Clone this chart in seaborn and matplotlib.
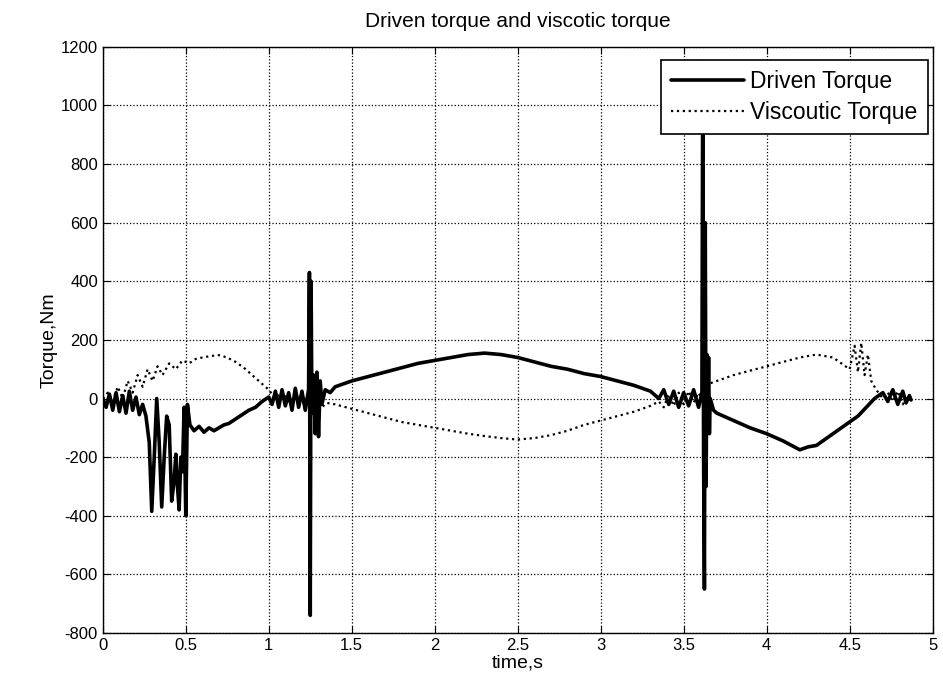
import pandas as pd
import matplotlib
matplotlib.use("Agg")
import matplotlib.pyplot as plt
import seaborn as sns

# driven torque
driven_t = [0.00, 0.02, 0.04, 0.06, 0.08, 0.10, 0.12, 0.14, 0.16, 0.18, 0.20, 0.22, 0.24, 0.26, 0.28,
            0.295, 0.31, 0.325, 0.34, 0.355, 0.37, 0.385, 0.40, 0.415, 0.43, 0.44, 0.45, 0.46, 0.47,
            0.48, 0.49, 0.50, 0.51, 0.525, 0.55, 0.58, 0.61, 0.64, 0.67, 0.70, 0.73, 0.76, 0.80,
            0.84, 0.88, 0.92, 0.96, 1.00, 1.02, 1.04, 1.06, 1.08, 1.10, 1.12, 1.14, 1.16, 1.18,
            1.20, 1.22, 1.24, 1.245, 1.25, 1.255, 1.26, 1.27, 1.28, 1.29, 1.30, 1.31, 1.32, 1.34,
            1.37, 1.40, 1.45, 1.50, 1.60, 1.70, 1.80, 1.90, 2.00, 2.10, 2.20, 2.30, 2.40, 2.50,
            2.60, 2.70, 2.80, 2.90, 3.00, 3.10, 3.20, 3.30, 3.35, 3.38, 3.41, 3.44, 3.47, 3.50,
            3.53, 3.56, 3.59, 3.61, 3.615, 3.62, 3.625, 3.63, 3.635, 3.64, 3.645, 3.65, 3.655,
            3.66, 3.68, 3.70, 3.80, 3.90, 4.00, 4.10, 4.20, 4.25, 4.30, 4.35, 4.40, 4.45, 4.50,
            4.55, 4.60, 4.65, 4.70, 4.73, 4.76, 4.79, 4.82, 4.84, 4.86, 4.87]
driven_v = [0, -30, 15, -40, 20, -45, 10, -50, 25, -40, 5, -55, -20, -60, -150,
            -385, -200, 0, -150, -370, -200, -60, -90, -350, -280, -190, -300, -380, -200,
            -250, -30, -400, -20, -90, -110, -95, -115, -100, -110, -100, -90, -85, -70,
            -55, -40, -30, -10, 5, -20, 25, -30, 30, -25, 20, -40, 35, -30,
            25, -40, 30, 430, -740, 400, -50, 80, -120, 90, -130, 60, -20, 30,
            20, 40, 50, 60, 75, 90, 105, 120, 130, 140, 150, 155, 150, 140,
            125, 110, 100, 85, 75, 60, 45, 25, 0, 30, -20, 25, -30, 20,
            -25, 30, -30, 20, 1150, -200, -650, 600, -300, 150, -100, 140, -120,
            0, -40, -50, -75, -100, -120, -145, -175, -165, -160, -140, -120, -100, -80,
            -60, -30, 0, 20, -10, 30, -20, 25, -15, 10, -5]

# viscous torque
visc_t = [0.00, 0.03, 0.06, 0.09, 0.12, 0.15, 0.18, 0.21, 0.24, 0.27, 0.30, 0.33, 0.36, 0.40,
          0.44, 0.48, 0.52, 0.56, 0.60, 0.65, 0.70, 0.75, 0.80, 0.85, 0.90, 0.95, 1.00, 1.04,
          1.08, 1.12, 1.16, 1.20, 1.24, 1.26, 1.28, 1.30, 1.32, 1.35, 1.40, 1.50, 1.60, 1.70,
          1.80, 1.90, 2.00, 2.10, 2.20, 2.30, 2.40, 2.50, 2.60, 2.70, 2.80, 2.90, 3.00, 3.10,
          3.20, 3.30, 3.35, 3.38, 3.41, 3.44, 3.47, 3.50, 3.53, 3.56, 3.59, 3.62, 3.65, 3.70,
          3.80, 3.90, 4.00, 4.10, 4.20, 4.30, 4.40, 4.45, 4.50, 4.53, 4.55, 4.57, 4.59, 4.61,
          4.63, 4.66, 4.70, 4.73, 4.76, 4.79, 4.82, 4.85, 4.87]
visc_v = [0, 20, -10, 40, 0, 60, 20, 80, 40, 100, 60, 110, 80, 120,
          100, 130, 120, 135, 140, 145, 148, 140, 125, 105, 80, 55, 30, 0,
          25, -15, 20, -20, 10, 60, -40, 50, -30, -15, -20, -35, -50, -65,
          -80, -90, -100, -110, -120, -128, -135, -140, -135, -125, -110, -90, -75, -60,
          -45, -25, -10, -30, 15, -25, 20, -20, 25, -15, 20, -10, 50, 60,
          80, 95, 110, 125, 140, 150, 140, 120, 100, 180, 90, 190, 80, 150,
          60, 30, 0, 20, -10, 25, -20, 10, 0]

x_ticks = [0, 0.5, 1, 1.5, 2, 2.5, 3, 3.5, 4, 4.5, 5]
x_labels = ['0', '0.5', '1', '1.5', '2', '2.5', '3', '3.5', '4', '4.5', '5']
y_ticks = [-800, -600, -400, -200, 0, 200, 400, 600, 800, 1000, 1200]

sns.set_style("ticks")
plt.rcParams['font.family'] = ['Liberation Sans', 'DejaVu Sans']
plt.rcParams['font.size'] = 11
plt.rcParams['axes.unicode_minus'] = False
plt.rcParams['text.color'] = 'black'
plt.rcParams['axes.labelcolor'] = 'black'

fig = plt.figure(figsize=(9.43, 6.92), dpi=100)
ax = fig.add_axes([0.109, 0.0853, 0.88, 0.847])

sns.lineplot(x=driven_t, y=driven_v, ax=ax, color='black', linewidth=2.6,
             estimator=None, sort=False, label='Driven Torque')
sns.lineplot(x=visc_t, y=visc_v, ax=ax, color='black', linewidth=1.6,
             linestyle=':', estimator=None, sort=False, label='Viscoutic Torque')

ax.set_xlim(0, 5)
ax.set_ylim(-800, 1200)
ax.set_xticks(x_ticks)
ax.set_xticklabels(x_labels)
ax.set_yticks(y_ticks)
ax.tick_params(direction='in', top=True, right=True, labelsize=12, length=5, colors='black')
ax.grid(True, linestyle=':', color='black', linewidth=0.9)
for s in ax.spines.values():
    s.set_color('black')
    s.set_linewidth(1)

ax.set_title("Driven torque and viscotic torque", fontsize=15, pad=14)
ax.set_xlabel("time,s", fontsize=14, labelpad=1)
ax.set_ylabel("Torque,Nm", fontsize=14, labelpad=2)

leg = ax.legend(loc='upper right', fontsize=16.5, fancybox=False, framealpha=1,
                edgecolor='black', borderpad=0.45, handlelength=3.2, handletextpad=0.25,
                labelspacing=0.35, borderaxespad=0, bbox_to_anchor=(0.994, 0.978))
leg.get_frame().set_linewidth(1.2)

plt.savefig("out.png", dpi=100)
